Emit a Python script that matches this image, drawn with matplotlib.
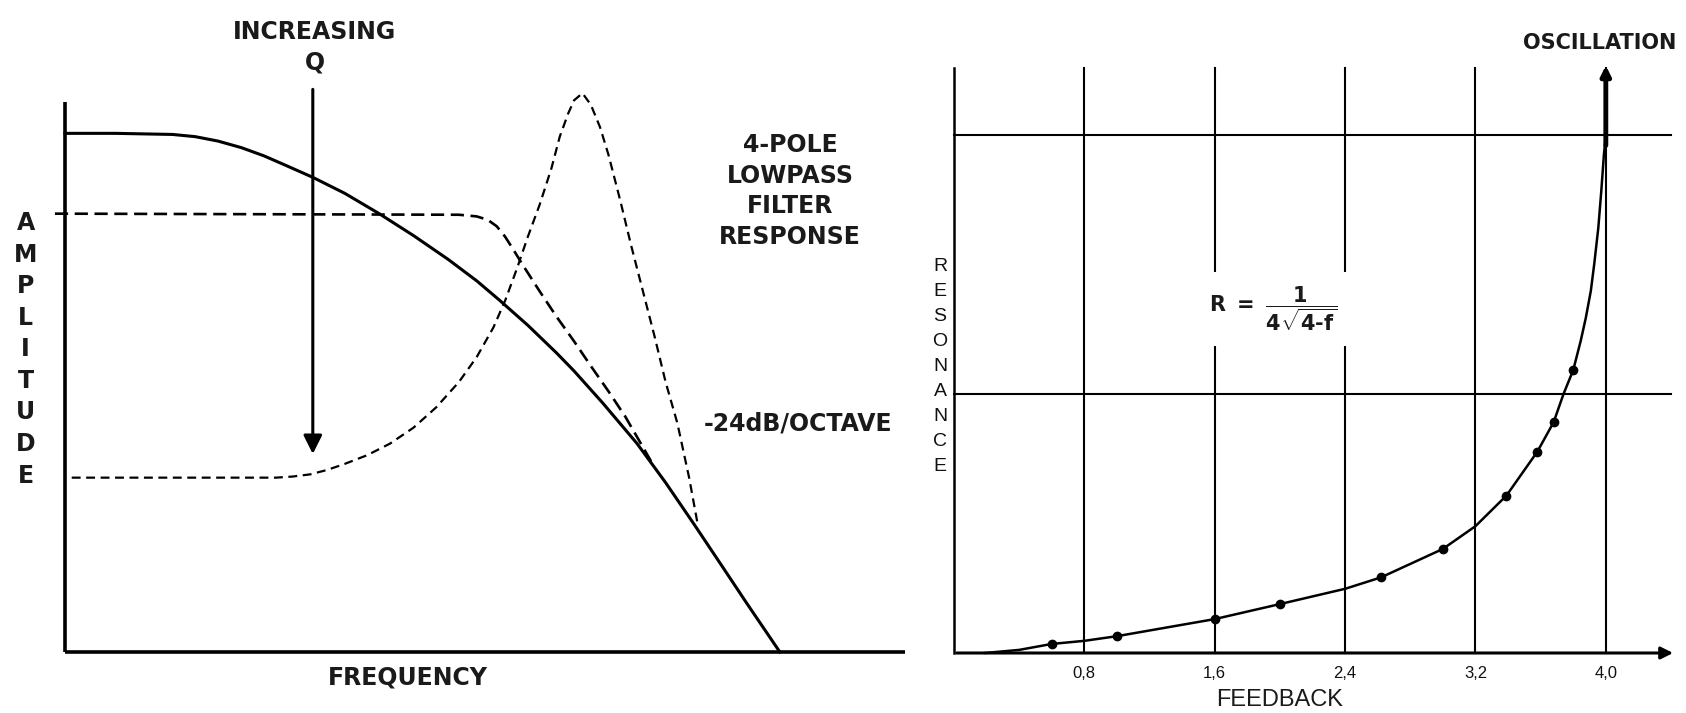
import numpy as np
import matplotlib.pyplot as plt

plt.rcParams['font.family'] = ['DejaVu Sans']
plt.rcParams['mathtext.fontset'] = 'custom'
plt.rcParams['mathtext.rm'] = 'DejaVu Sans:bold'
plt.rcParams['mathtext.it'] = 'DejaVu Sans:bold'
plt.rcParams['mathtext.bf'] = 'DejaVu Sans:bold'

# Panel izquierdo: respuesta del filtro (unidades arbitrarias 0-10)
lp_freq = [0.0, 0.6, 1.28, 1.55, 1.82, 2.10, 2.37, 2.64, 2.95, 3.33, 3.74, 4.15, 4.56,
           4.90, 5.17, 5.51, 5.85, 6.06, 6.40, 6.81, 7.15, 7.49, 7.84, 8.11, 8.51]
lp_amp = [9.43, 9.43, 9.41, 9.37, 9.29, 9.17, 9.02, 8.84, 8.63, 8.34, 7.97, 7.57, 7.14,
          6.75, 6.40, 5.94, 5.44, 5.11, 4.53, 3.79, 3.08, 2.32, 1.52, 0.90, 0.0]

midq_freq = [-0.12, 4.69, 4.90, 5.03, 5.14, 5.24, 5.34, 5.44, 5.65, 5.85, 6.06, 6.26,
             6.47, 6.67, 6.81, 6.98]
midq_amp = [7.97, 7.95, 7.92, 7.86, 7.74, 7.55, 7.31, 7.06, 6.56, 6.10, 5.65, 5.20,
            4.74, 4.28, 3.91, 3.46]

highq_freq = [0.08, 2.51, 2.71, 2.92, 3.12, 3.33, 3.60, 3.87, 4.15, 4.42, 4.69, 4.90,
              5.10, 5.24, 5.38, 5.51, 5.65, 5.79, 5.89, 5.99, 6.06, 6.16, 6.26, 6.37,
              6.47, 6.61, 6.74, 6.88, 7.02, 7.15, 7.29, 7.43, 7.53]
highq_amp = [3.17, 3.17, 3.19, 3.23, 3.31, 3.42, 3.58, 3.79, 4.08, 4.45, 4.91, 5.36,
             5.90, 6.39, 6.97, 7.55, 8.13, 8.79, 9.37, 9.79, 10.03, 10.16, 9.95, 9.54,
             9.04, 8.21, 7.39, 6.56, 5.73, 4.91, 4.16, 3.17, 2.34]

title_lines = ['4-POLE', 'LOWPASS', 'FILTER', 'RESPONSE']

# Panel derecho: resonancia vs realimentacion
fb_curve = [0.19, 0.4, 0.6, 0.8, 1.0, 1.6, 2.0, 2.4, 2.62, 3.0, 3.2, 3.39, 3.58, 3.68,
            3.74, 3.80, 3.846, 3.877, 3.908, 3.929, 3.954, 3.972, 3.988, 4.0]
res_curve = [0.0, 0.012, 0.035, 0.047, 0.065, 0.131, 0.189, 0.248, 0.292, 0.402, 0.49,
             0.608, 0.778, 0.892, 1.0, 1.093, 1.206, 1.294, 1.399, 1.503, 1.643, 1.783,
             1.923, 2.0]
fb_points = [0.60, 1.00, 1.60, 2.00, 2.62, 3.00, 3.39, 3.58, 3.68, 3.80]
res_points = [0.035, 0.065, 0.131, 0.189, 0.292, 0.402, 0.608, 0.778, 0.892, 1.093]
fb_ticks = [0.8, 1.6, 2.4, 3.2, 4.0]
fb_ticklabels = ['0,8', '1,6', '2,4', '3,2', '4,0']
res_levels = [1.0, 2.0]

W, H = 1686, 713
fig = plt.figure(figsize=(W / 100, H / 100), dpi=100)
ink = '#1a1a1a'

# ---------------- panel izquierdo ----------------
ax1 = fig.add_axes([65 / W, 61 / H, 840 / W, 550 / H])
ax1.set_xlim(0, 10)
ax1.set_ylim(0, 10)
ax1.axis('off')

ax1.plot([0, 0], [0, 10], color='black', lw=2.6, clip_on=False, solid_capstyle='butt')
ax1.plot([0, 10], [0, 0], color='black', lw=2.6, clip_on=False, solid_capstyle='butt')
ax1.plot(lp_freq, lp_amp, color='black', lw=2.2, clip_on=False)
ax1.plot(midq_freq, midq_amp, color='black', lw=1.9, ls=(0, (5, 2.5)), clip_on=False)
ax1.plot(highq_freq, highq_amp, color='black', lw=1.6, ls=(0, (4, 2.5)), clip_on=False)

# flecha de Q creciente
ax1.annotate('', xy=(2.95, 3.55), xytext=(2.95, 10.28),
             arrowprops=dict(arrowstyle='-|>', color='black', lw=2.2,
                             mutation_scale=28), annotation_clip=False)

ax1.text(2.97, 11.27, 'INCREASING', ha='center', va='center', fontsize=17,
         fontweight='bold', color=ink)
ax1.text(2.97, 10.72, 'Q', ha='center', va='center', fontsize=17,
         fontweight='bold', color=ink)
for i, line in enumerate(title_lines):
    ax1.text(8.63, 9.22 - i * 0.56, line, ha='center', va='center', fontsize=17,
             fontweight='bold', color=ink)
ax1.text(7.60, 4.16, '-24dB/OCTAVE', ha='left', va='center', fontsize=17,
         fontweight='bold', color=ink)
for i, ch in enumerate('AMPLITUDE'):
    ax1.text(-0.47, 7.80 - i * 0.574, ch, ha='center', va='center', fontsize=17,
             fontweight='bold', color=ink)
ax1.text(4.08, -0.47, 'FREQUENCY', ha='center', va='center', fontsize=17,
         fontweight='bold', color=ink)

# ---------------- panel derecho ----------------
ax2 = fig.add_axes([954 / W, 60 / H, 717 / W, 585 / H])
ax2.set_xlim(0, 4.4)
ax2.set_ylim(0, 2.26)
ax2.axis('off')

for xv in fb_ticks:
    ax2.plot([xv, xv], [0, 2.26], color='black', lw=1.5, clip_on=False)
for yv in res_levels:
    ax2.plot([0, 4.4], [yv, yv], color='black', lw=1.5, clip_on=False)
ax2.plot([0, 0], [0, 2.26], color='black', lw=1.8, clip_on=False)
ax2.annotate('', xy=(4.43, 0), xytext=(0, 0),
             arrowprops=dict(arrowstyle='-|>', color='black', lw=2.2,
                             mutation_scale=18), annotation_clip=False)

ax2.plot(fb_curve, res_curve, color='black', lw=1.8, clip_on=False)
ax2.plot(fb_points, res_points, 'o', color='black', ms=6, clip_on=False)
ax2.annotate('', xy=(4.0, 2.28), xytext=(4.0, 1.95),
             arrowprops=dict(arrowstyle='-|>', color='black', lw=3.5,
                             mutation_scale=14), annotation_clip=False)

for xv, lab in zip(fb_ticks, fb_ticklabels):
    ax2.text(xv, -0.08, lab, ha='center', va='center', fontsize=12,
             family='Liberation Sans', color='#111111')
ax2.text(2.0, -0.18, 'FEEDBACK', ha='center', va='center', fontsize=17,
         family='Liberation Sans', color=ink)
for i, ch in enumerate('RESONANCE'):
    ax2.text(-0.086, 1.494 - i * 0.0965, ch, ha='center', va='center', fontsize=14,
             family='Liberation Sans', color='#111111')
ax2.text(3.96, 2.355, 'OSCILLATION', ha='center', va='center', fontsize=15,
         fontweight='bold', color=ink)

ax2.text(1.96, 1.33, r'$\mathrm{R}\ =\ \dfrac{1}{4\sqrt{4\text{-}f}}$', ha='center',
         va='center', fontsize=15, color=ink,
         bbox=dict(facecolor='white', edgecolor='none', pad=9))

plt.savefig('out.png', dpi=100)
